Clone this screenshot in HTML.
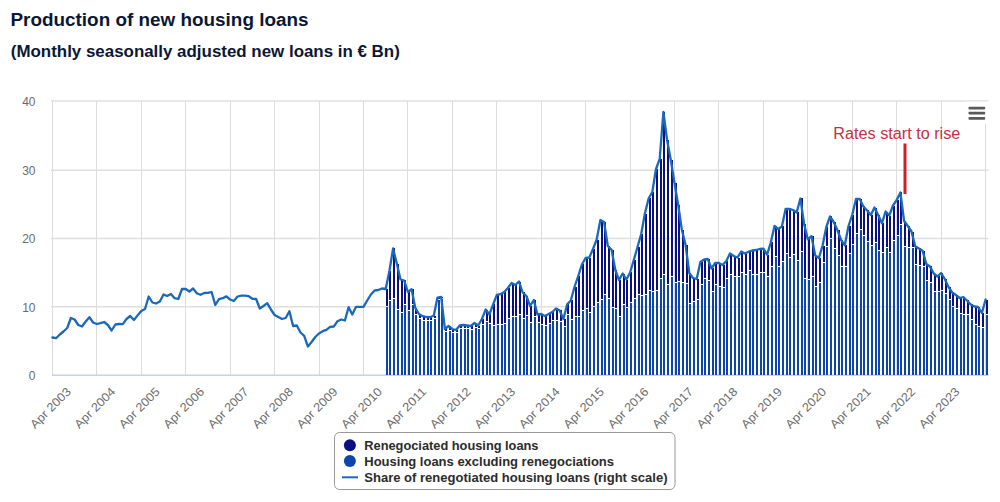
<!DOCTYPE html>
<html><head><meta charset="utf-8"><title>Production of new housing loans</title>
<style>html,body{margin:0;padding:0;background:#fff;}body{width:1000px;height:502px;overflow:hidden;}svg{display:block;}text{font-family:"Liberation Sans",sans-serif;}.t{font-weight:bold;fill:#0b1736;}.ax{font-size:12px;fill:#6b6b6b;}.lg{font-weight:bold;font-size:12px;fill:#2b2b2b;}</style>
</head><body>
<svg width="1000" height="502" viewBox="0 0 1000 502">
<rect width="1000" height="502" fill="#fff"/>
<text class="t" x="10.5" y="26.3" font-size="18" textLength="298" lengthAdjust="spacingAndGlyphs">Production of new housing loans</text>
<text class="t" x="10.8" y="56.7" font-size="16" textLength="389" lengthAdjust="spacingAndGlyphs">(Monthly seasonally adjusted new loans in € Bn)</text>
<g stroke="#dcdcdc" stroke-width="1">
<line x1="52.5" y1="101.0" x2="52.5" y2="375.4"/>
<line x1="96.5" y1="101.0" x2="96.5" y2="375.4"/>
<line x1="141.5" y1="101.0" x2="141.5" y2="375.4"/>
<line x1="185.5" y1="101.0" x2="185.5" y2="375.4"/>
<line x1="230.5" y1="101.0" x2="230.5" y2="375.4"/>
<line x1="274.5" y1="101.0" x2="274.5" y2="375.4"/>
<line x1="319.5" y1="101.0" x2="319.5" y2="375.4"/>
<line x1="363.5" y1="101.0" x2="363.5" y2="375.4"/>
<line x1="407.5" y1="101.0" x2="407.5" y2="375.4"/>
<line x1="452.5" y1="101.0" x2="452.5" y2="375.4"/>
<line x1="496.5" y1="101.0" x2="496.5" y2="375.4"/>
<line x1="541.5" y1="101.0" x2="541.5" y2="375.4"/>
<line x1="585.5" y1="101.0" x2="585.5" y2="375.4"/>
<line x1="630.5" y1="101.0" x2="630.5" y2="375.4"/>
<line x1="674.5" y1="101.0" x2="674.5" y2="375.4"/>
<line x1="718.5" y1="101.0" x2="718.5" y2="375.4"/>
<line x1="763.5" y1="101.0" x2="763.5" y2="375.4"/>
<line x1="807.5" y1="101.0" x2="807.5" y2="375.4"/>
<line x1="852.5" y1="101.0" x2="852.5" y2="375.4"/>
<line x1="896.5" y1="101.0" x2="896.5" y2="375.4"/>
<line x1="941.5" y1="101.0" x2="941.5" y2="375.4"/>
<line x1="985.5" y1="101.0" x2="985.5" y2="375.4"/>
<line x1="51" y1="101.0" x2="988.5" y2="101.0" stroke-width="1.5" stroke="#dfdfdf"/>
<line x1="51" y1="170.2" x2="988.5" y2="170.2" stroke-width="1.5" stroke="#dfdfdf"/>
<line x1="51" y1="238.6" x2="988.5" y2="238.6" stroke-width="1.5" stroke="#dfdfdf"/>
<line x1="51" y1="306.8" x2="988.5" y2="306.8" stroke-width="1.5" stroke="#dfdfdf"/>
</g>
<line x1="52" y1="375.3" x2="988.5" y2="375.3" stroke="#c8d0e4" stroke-width="1.4"/>
<text class="ax" x="35.5" y="380.1" text-anchor="end">0</text>
<text class="ax" x="35.5" y="311.6" text-anchor="end">10</text>
<text class="ax" x="35.5" y="243.4" text-anchor="end">20</text>
<text class="ax" x="35.5" y="175.0" text-anchor="end">30</text>
<text class="ax" x="35.5" y="105.8" text-anchor="end">40</text>
<g>
<g shape-rendering="crispEdges">
<rect x="386" y="289" width="2" height="17" fill="#0a0f82"/>
<rect x="386" y="307" width="2" height="68" fill="#0e45ad"/>
<rect x="389" y="271" width="2" height="29" fill="#0a0f82"/>
<rect x="389" y="301" width="2" height="74" fill="#0e45ad"/>
<rect x="393" y="248" width="2" height="50" fill="#0a0f82"/>
<rect x="393" y="299" width="2" height="76" fill="#0e45ad"/>
<rect x="397" y="264" width="2" height="45" fill="#0a0f82"/>
<rect x="397" y="310" width="2" height="65" fill="#0e45ad"/>
<rect x="401" y="280" width="2" height="32" fill="#0a0f82"/>
<rect x="401" y="313" width="2" height="62" fill="#0e45ad"/>
<rect x="404" y="280" width="2" height="24" fill="#0a0f82"/>
<rect x="404" y="305" width="2" height="70" fill="#0e45ad"/>
<rect x="408" y="292" width="2" height="18" fill="#0a0f82"/>
<rect x="408" y="311" width="2" height="64" fill="#0e45ad"/>
<rect x="412" y="289" width="2" height="15" fill="#0a0f82"/>
<rect x="412" y="305" width="2" height="70" fill="#0e45ad"/>
<rect x="415" y="308" width="2" height="6" fill="#0a0f82"/>
<rect x="415" y="315" width="2" height="60" fill="#0e45ad"/>
<rect x="419" y="314" width="2" height="4" fill="#0a0f82"/>
<rect x="419" y="319" width="2" height="56" fill="#0e45ad"/>
<rect x="423" y="316" width="2" height="4" fill="#0a0f82"/>
<rect x="423" y="321" width="2" height="54" fill="#0e45ad"/>
<rect x="427" y="317" width="2" height="3" fill="#0a0f82"/>
<rect x="427" y="321" width="2" height="54" fill="#0e45ad"/>
<rect x="430" y="317" width="2" height="3" fill="#0a0f82"/>
<rect x="430" y="321" width="2" height="54" fill="#0e45ad"/>
<rect x="434" y="316" width="2" height="2" fill="#0a0f82"/>
<rect x="434" y="319" width="2" height="56" fill="#0e45ad"/>
<rect x="438" y="298" width="2" height="1" fill="#0a0f82"/>
<rect x="438" y="300" width="2" height="75" fill="#0e45ad"/>
<rect x="441" y="297" width="2" height="1" fill="#0a0f82"/>
<rect x="441" y="299" width="2" height="76" fill="#0e45ad"/>
<rect x="445" y="329" width="2" height="2" fill="#0a0f82"/>
<rect x="445" y="332" width="2" height="43" fill="#0e45ad"/>
<rect x="449" y="326" width="2" height="4" fill="#0a0f82"/>
<rect x="449" y="331" width="2" height="44" fill="#0e45ad"/>
<rect x="452" y="329" width="2" height="3" fill="#0a0f82"/>
<rect x="452" y="333" width="2" height="42" fill="#0e45ad"/>
<rect x="456" y="330" width="2" height="2" fill="#0a0f82"/>
<rect x="456" y="333" width="2" height="42" fill="#0e45ad"/>
<rect x="460" y="326" width="2" height="2" fill="#0a0f82"/>
<rect x="460" y="329" width="2" height="46" fill="#0e45ad"/>
<rect x="464" y="325" width="2" height="3" fill="#0a0f82"/>
<rect x="464" y="329" width="2" height="46" fill="#0e45ad"/>
<rect x="467" y="326" width="2" height="2" fill="#0a0f82"/>
<rect x="467" y="329" width="2" height="46" fill="#0e45ad"/>
<rect x="471" y="326" width="2" height="3" fill="#0a0f82"/>
<rect x="471" y="330" width="2" height="45" fill="#0e45ad"/>
<rect x="475" y="323" width="2" height="4" fill="#0a0f82"/>
<rect x="475" y="328" width="2" height="47" fill="#0e45ad"/>
<rect x="478" y="326" width="2" height="2" fill="#0a0f82"/>
<rect x="478" y="329" width="2" height="46" fill="#0e45ad"/>
<rect x="482" y="319" width="2" height="5" fill="#0a0f82"/>
<rect x="482" y="325" width="2" height="50" fill="#0e45ad"/>
<rect x="486" y="310" width="2" height="11" fill="#0a0f82"/>
<rect x="486" y="322" width="2" height="53" fill="#0e45ad"/>
<rect x="489" y="314" width="2" height="9" fill="#0a0f82"/>
<rect x="489" y="324" width="2" height="51" fill="#0e45ad"/>
<rect x="493" y="304" width="2" height="21" fill="#0a0f82"/>
<rect x="493" y="326" width="2" height="49" fill="#0e45ad"/>
<rect x="497" y="295" width="2" height="29" fill="#0a0f82"/>
<rect x="497" y="325" width="2" height="50" fill="#0e45ad"/>
<rect x="501" y="294" width="2" height="30" fill="#0a0f82"/>
<rect x="501" y="325" width="2" height="50" fill="#0e45ad"/>
<rect x="504" y="292" width="2" height="31" fill="#0a0f82"/>
<rect x="504" y="324" width="2" height="51" fill="#0e45ad"/>
<rect x="508" y="288" width="2" height="30" fill="#0a0f82"/>
<rect x="508" y="319" width="2" height="56" fill="#0e45ad"/>
<rect x="512" y="283" width="2" height="33" fill="#0a0f82"/>
<rect x="512" y="317" width="2" height="58" fill="#0e45ad"/>
<rect x="515" y="285" width="2" height="31" fill="#0a0f82"/>
<rect x="515" y="317" width="2" height="58" fill="#0e45ad"/>
<rect x="519" y="282" width="2" height="32" fill="#0a0f82"/>
<rect x="519" y="315" width="2" height="60" fill="#0e45ad"/>
<rect x="523" y="292" width="2" height="26" fill="#0a0f82"/>
<rect x="523" y="319" width="2" height="56" fill="#0e45ad"/>
<rect x="526" y="296" width="2" height="19" fill="#0a0f82"/>
<rect x="526" y="316" width="2" height="59" fill="#0e45ad"/>
<rect x="530" y="306" width="2" height="16" fill="#0a0f82"/>
<rect x="530" y="323" width="2" height="52" fill="#0e45ad"/>
<rect x="534" y="300" width="2" height="16" fill="#0a0f82"/>
<rect x="534" y="317" width="2" height="58" fill="#0e45ad"/>
<rect x="538" y="314" width="2" height="8" fill="#0a0f82"/>
<rect x="538" y="323" width="2" height="52" fill="#0e45ad"/>
<rect x="541" y="314" width="2" height="10" fill="#0a0f82"/>
<rect x="541" y="325" width="2" height="50" fill="#0e45ad"/>
<rect x="545" y="316" width="2" height="9" fill="#0a0f82"/>
<rect x="545" y="326" width="2" height="49" fill="#0e45ad"/>
<rect x="549" y="314" width="2" height="9" fill="#0a0f82"/>
<rect x="549" y="324" width="2" height="51" fill="#0e45ad"/>
<rect x="552" y="312" width="2" height="8" fill="#0a0f82"/>
<rect x="552" y="321" width="2" height="54" fill="#0e45ad"/>
<rect x="556" y="308" width="2" height="12" fill="#0a0f82"/>
<rect x="556" y="321" width="2" height="54" fill="#0e45ad"/>
<rect x="560" y="310" width="2" height="11" fill="#0a0f82"/>
<rect x="560" y="322" width="2" height="53" fill="#0e45ad"/>
<rect x="564" y="319" width="2" height="7" fill="#0a0f82"/>
<rect x="564" y="327" width="2" height="48" fill="#0e45ad"/>
<rect x="567" y="304" width="2" height="10" fill="#0a0f82"/>
<rect x="567" y="315" width="2" height="60" fill="#0e45ad"/>
<rect x="571" y="300" width="2" height="19" fill="#0a0f82"/>
<rect x="571" y="320" width="2" height="55" fill="#0e45ad"/>
<rect x="575" y="287" width="2" height="29" fill="#0a0f82"/>
<rect x="575" y="317" width="2" height="58" fill="#0e45ad"/>
<rect x="578" y="276" width="2" height="40" fill="#0a0f82"/>
<rect x="578" y="317" width="2" height="58" fill="#0e45ad"/>
<rect x="582" y="264" width="2" height="46" fill="#0a0f82"/>
<rect x="582" y="311" width="2" height="64" fill="#0e45ad"/>
<rect x="586" y="258" width="2" height="50" fill="#0a0f82"/>
<rect x="586" y="309" width="2" height="66" fill="#0e45ad"/>
<rect x="589" y="258" width="2" height="54" fill="#0a0f82"/>
<rect x="589" y="313" width="2" height="62" fill="#0e45ad"/>
<rect x="593" y="249" width="2" height="57" fill="#0a0f82"/>
<rect x="593" y="307" width="2" height="68" fill="#0e45ad"/>
<rect x="597" y="240" width="2" height="62" fill="#0a0f82"/>
<rect x="597" y="303" width="2" height="72" fill="#0e45ad"/>
<rect x="601" y="220" width="2" height="79" fill="#0a0f82"/>
<rect x="601" y="300" width="2" height="75" fill="#0e45ad"/>
<rect x="604" y="222" width="2" height="72" fill="#0a0f82"/>
<rect x="604" y="295" width="2" height="80" fill="#0e45ad"/>
<rect x="608" y="246" width="2" height="52" fill="#0a0f82"/>
<rect x="608" y="299" width="2" height="76" fill="#0e45ad"/>
<rect x="612" y="250" width="2" height="57" fill="#0a0f82"/>
<rect x="612" y="308" width="2" height="67" fill="#0e45ad"/>
<rect x="615" y="270" width="2" height="38" fill="#0a0f82"/>
<rect x="615" y="309" width="2" height="66" fill="#0e45ad"/>
<rect x="619" y="280" width="2" height="36" fill="#0a0f82"/>
<rect x="619" y="317" width="2" height="58" fill="#0e45ad"/>
<rect x="623" y="274" width="2" height="30" fill="#0a0f82"/>
<rect x="623" y="305" width="2" height="70" fill="#0e45ad"/>
<rect x="626" y="280" width="2" height="27" fill="#0a0f82"/>
<rect x="626" y="308" width="2" height="67" fill="#0e45ad"/>
<rect x="630" y="272" width="2" height="30" fill="#0a0f82"/>
<rect x="630" y="303" width="2" height="72" fill="#0e45ad"/>
<rect x="634" y="260" width="2" height="38" fill="#0a0f82"/>
<rect x="634" y="299" width="2" height="76" fill="#0e45ad"/>
<rect x="638" y="247" width="2" height="47" fill="#0a0f82"/>
<rect x="638" y="295" width="2" height="80" fill="#0e45ad"/>
<rect x="641" y="234" width="2" height="61" fill="#0a0f82"/>
<rect x="641" y="296" width="2" height="79" fill="#0e45ad"/>
<rect x="645" y="214" width="2" height="80" fill="#0a0f82"/>
<rect x="645" y="295" width="2" height="80" fill="#0e45ad"/>
<rect x="649" y="198" width="2" height="92" fill="#0a0f82"/>
<rect x="649" y="291" width="2" height="84" fill="#0e45ad"/>
<rect x="652" y="192" width="2" height="99" fill="#0a0f82"/>
<rect x="652" y="292" width="2" height="83" fill="#0e45ad"/>
<rect x="656" y="169" width="2" height="121" fill="#0a0f82"/>
<rect x="656" y="291" width="2" height="84" fill="#0e45ad"/>
<rect x="660" y="159" width="2" height="119" fill="#0a0f82"/>
<rect x="660" y="279" width="2" height="96" fill="#0e45ad"/>
<rect x="663" y="112" width="2" height="162" fill="#0a0f82"/>
<rect x="663" y="275" width="2" height="100" fill="#0e45ad"/>
<rect x="667" y="140" width="2" height="144" fill="#0a0f82"/>
<rect x="667" y="285" width="2" height="90" fill="#0e45ad"/>
<rect x="671" y="160" width="2" height="116" fill="#0a0f82"/>
<rect x="671" y="277" width="2" height="98" fill="#0e45ad"/>
<rect x="675" y="183" width="2" height="99" fill="#0a0f82"/>
<rect x="675" y="283" width="2" height="92" fill="#0e45ad"/>
<rect x="678" y="205" width="2" height="76" fill="#0a0f82"/>
<rect x="678" y="282" width="2" height="93" fill="#0e45ad"/>
<rect x="682" y="230" width="2" height="52" fill="#0a0f82"/>
<rect x="682" y="283" width="2" height="92" fill="#0e45ad"/>
<rect x="686" y="245" width="2" height="38" fill="#0a0f82"/>
<rect x="686" y="284" width="2" height="91" fill="#0e45ad"/>
<rect x="689" y="273" width="2" height="30" fill="#0a0f82"/>
<rect x="689" y="304" width="2" height="71" fill="#0e45ad"/>
<rect x="693" y="278" width="2" height="23" fill="#0a0f82"/>
<rect x="693" y="302" width="2" height="73" fill="#0e45ad"/>
<rect x="697" y="279" width="2" height="20" fill="#0a0f82"/>
<rect x="697" y="300" width="2" height="75" fill="#0e45ad"/>
<rect x="701" y="262" width="2" height="22" fill="#0a0f82"/>
<rect x="701" y="285" width="2" height="90" fill="#0e45ad"/>
<rect x="704" y="260" width="2" height="18" fill="#0a0f82"/>
<rect x="704" y="279" width="2" height="96" fill="#0e45ad"/>
<rect x="708" y="259" width="2" height="21" fill="#0a0f82"/>
<rect x="708" y="281" width="2" height="94" fill="#0e45ad"/>
<rect x="712" y="268" width="2" height="23" fill="#0a0f82"/>
<rect x="712" y="292" width="2" height="83" fill="#0e45ad"/>
<rect x="715" y="263" width="2" height="21" fill="#0a0f82"/>
<rect x="715" y="285" width="2" height="90" fill="#0e45ad"/>
<rect x="719" y="263" width="2" height="23" fill="#0a0f82"/>
<rect x="719" y="287" width="2" height="88" fill="#0e45ad"/>
<rect x="723" y="265" width="2" height="22" fill="#0a0f82"/>
<rect x="723" y="288" width="2" height="87" fill="#0e45ad"/>
<rect x="726" y="261" width="2" height="17" fill="#0a0f82"/>
<rect x="726" y="279" width="2" height="96" fill="#0e45ad"/>
<rect x="730" y="254" width="2" height="20" fill="#0a0f82"/>
<rect x="730" y="275" width="2" height="100" fill="#0e45ad"/>
<rect x="734" y="256" width="2" height="20" fill="#0a0f82"/>
<rect x="734" y="277" width="2" height="98" fill="#0e45ad"/>
<rect x="738" y="258" width="2" height="18" fill="#0a0f82"/>
<rect x="738" y="277" width="2" height="98" fill="#0e45ad"/>
<rect x="741" y="252" width="2" height="20" fill="#0a0f82"/>
<rect x="741" y="273" width="2" height="102" fill="#0e45ad"/>
<rect x="745" y="254" width="2" height="20" fill="#0a0f82"/>
<rect x="745" y="275" width="2" height="100" fill="#0e45ad"/>
<rect x="749" y="252" width="2" height="18" fill="#0a0f82"/>
<rect x="749" y="271" width="2" height="104" fill="#0e45ad"/>
<rect x="752" y="250" width="2" height="24" fill="#0a0f82"/>
<rect x="752" y="275" width="2" height="100" fill="#0e45ad"/>
<rect x="756" y="250" width="2" height="24" fill="#0a0f82"/>
<rect x="756" y="275" width="2" height="100" fill="#0e45ad"/>
<rect x="760" y="249" width="2" height="23" fill="#0a0f82"/>
<rect x="760" y="273" width="2" height="102" fill="#0e45ad"/>
<rect x="763" y="249" width="2" height="23" fill="#0a0f82"/>
<rect x="763" y="273" width="2" height="102" fill="#0e45ad"/>
<rect x="767" y="255" width="2" height="21" fill="#0a0f82"/>
<rect x="767" y="277" width="2" height="98" fill="#0e45ad"/>
<rect x="771" y="242" width="2" height="24" fill="#0a0f82"/>
<rect x="771" y="267" width="2" height="108" fill="#0e45ad"/>
<rect x="775" y="226" width="2" height="30" fill="#0a0f82"/>
<rect x="775" y="257" width="2" height="118" fill="#0e45ad"/>
<rect x="778" y="229" width="2" height="37" fill="#0a0f82"/>
<rect x="778" y="267" width="2" height="108" fill="#0e45ad"/>
<rect x="782" y="226" width="2" height="35" fill="#0a0f82"/>
<rect x="782" y="262" width="2" height="113" fill="#0e45ad"/>
<rect x="786" y="209" width="2" height="44" fill="#0a0f82"/>
<rect x="786" y="254" width="2" height="121" fill="#0e45ad"/>
<rect x="789" y="209" width="2" height="48" fill="#0a0f82"/>
<rect x="789" y="258" width="2" height="117" fill="#0e45ad"/>
<rect x="793" y="210" width="2" height="44" fill="#0a0f82"/>
<rect x="793" y="255" width="2" height="120" fill="#0e45ad"/>
<rect x="797" y="212" width="2" height="48" fill="#0a0f82"/>
<rect x="797" y="261" width="2" height="114" fill="#0e45ad"/>
<rect x="801" y="198" width="2" height="53" fill="#0a0f82"/>
<rect x="801" y="252" width="2" height="123" fill="#0e45ad"/>
<rect x="804" y="224" width="2" height="54" fill="#0a0f82"/>
<rect x="804" y="279" width="2" height="96" fill="#0e45ad"/>
<rect x="808" y="239" width="2" height="40" fill="#0a0f82"/>
<rect x="808" y="280" width="2" height="95" fill="#0e45ad"/>
<rect x="812" y="236" width="2" height="40" fill="#0a0f82"/>
<rect x="812" y="277" width="2" height="98" fill="#0e45ad"/>
<rect x="815" y="256" width="2" height="30" fill="#0a0f82"/>
<rect x="815" y="287" width="2" height="88" fill="#0e45ad"/>
<rect x="819" y="258" width="2" height="24" fill="#0a0f82"/>
<rect x="819" y="283" width="2" height="92" fill="#0e45ad"/>
<rect x="823" y="246" width="2" height="16" fill="#0a0f82"/>
<rect x="823" y="263" width="2" height="112" fill="#0e45ad"/>
<rect x="826" y="227" width="2" height="19" fill="#0a0f82"/>
<rect x="826" y="247" width="2" height="128" fill="#0e45ad"/>
<rect x="830" y="216" width="2" height="22" fill="#0a0f82"/>
<rect x="830" y="239" width="2" height="136" fill="#0e45ad"/>
<rect x="834" y="222" width="2" height="26" fill="#0a0f82"/>
<rect x="834" y="249" width="2" height="126" fill="#0e45ad"/>
<rect x="838" y="230" width="2" height="25" fill="#0a0f82"/>
<rect x="838" y="256" width="2" height="119" fill="#0e45ad"/>
<rect x="841" y="240" width="2" height="26" fill="#0a0f82"/>
<rect x="841" y="267" width="2" height="108" fill="#0e45ad"/>
<rect x="845" y="245" width="2" height="21" fill="#0a0f82"/>
<rect x="845" y="267" width="2" height="108" fill="#0e45ad"/>
<rect x="849" y="226" width="2" height="27" fill="#0a0f82"/>
<rect x="849" y="254" width="2" height="121" fill="#0e45ad"/>
<rect x="852" y="215" width="2" height="29" fill="#0a0f82"/>
<rect x="852" y="245" width="2" height="130" fill="#0e45ad"/>
<rect x="856" y="199" width="2" height="34" fill="#0a0f82"/>
<rect x="856" y="234" width="2" height="141" fill="#0e45ad"/>
<rect x="860" y="199" width="2" height="30" fill="#0a0f82"/>
<rect x="860" y="230" width="2" height="145" fill="#0e45ad"/>
<rect x="863" y="206" width="2" height="29" fill="#0a0f82"/>
<rect x="863" y="236" width="2" height="139" fill="#0e45ad"/>
<rect x="867" y="210" width="2" height="31" fill="#0a0f82"/>
<rect x="867" y="242" width="2" height="133" fill="#0e45ad"/>
<rect x="871" y="215" width="2" height="30" fill="#0a0f82"/>
<rect x="871" y="246" width="2" height="129" fill="#0e45ad"/>
<rect x="875" y="208" width="2" height="34" fill="#0a0f82"/>
<rect x="875" y="243" width="2" height="132" fill="#0e45ad"/>
<rect x="878" y="215" width="2" height="35" fill="#0a0f82"/>
<rect x="878" y="251" width="2" height="124" fill="#0e45ad"/>
<rect x="882" y="223" width="2" height="29" fill="#0a0f82"/>
<rect x="882" y="253" width="2" height="122" fill="#0e45ad"/>
<rect x="886" y="212" width="2" height="35" fill="#0a0f82"/>
<rect x="886" y="248" width="2" height="127" fill="#0e45ad"/>
<rect x="889" y="216" width="2" height="36" fill="#0a0f82"/>
<rect x="889" y="253" width="2" height="122" fill="#0e45ad"/>
<rect x="893" y="206" width="2" height="34" fill="#0a0f82"/>
<rect x="893" y="241" width="2" height="134" fill="#0e45ad"/>
<rect x="897" y="200" width="2" height="35" fill="#0a0f82"/>
<rect x="897" y="236" width="2" height="139" fill="#0e45ad"/>
<rect x="900" y="192" width="2" height="32" fill="#0a0f82"/>
<rect x="900" y="225" width="2" height="150" fill="#0e45ad"/>
<rect x="904" y="221" width="2" height="25" fill="#0a0f82"/>
<rect x="904" y="247" width="2" height="128" fill="#0e45ad"/>
<rect x="908" y="226" width="2" height="21" fill="#0a0f82"/>
<rect x="908" y="248" width="2" height="127" fill="#0e45ad"/>
<rect x="912" y="232" width="2" height="15" fill="#0a0f82"/>
<rect x="912" y="248" width="2" height="127" fill="#0e45ad"/>
<rect x="915" y="246" width="2" height="18" fill="#0a0f82"/>
<rect x="915" y="265" width="2" height="110" fill="#0e45ad"/>
<rect x="919" y="248" width="2" height="17" fill="#0a0f82"/>
<rect x="919" y="266" width="2" height="109" fill="#0e45ad"/>
<rect x="923" y="251" width="2" height="15" fill="#0a0f82"/>
<rect x="923" y="267" width="2" height="108" fill="#0e45ad"/>
<rect x="926" y="264" width="2" height="16" fill="#0a0f82"/>
<rect x="926" y="281" width="2" height="94" fill="#0e45ad"/>
<rect x="930" y="266" width="2" height="16" fill="#0a0f82"/>
<rect x="930" y="283" width="2" height="92" fill="#0e45ad"/>
<rect x="934" y="274" width="2" height="17" fill="#0a0f82"/>
<rect x="934" y="292" width="2" height="83" fill="#0e45ad"/>
<rect x="938" y="276" width="2" height="15" fill="#0a0f82"/>
<rect x="938" y="292" width="2" height="83" fill="#0e45ad"/>
<rect x="941" y="273" width="2" height="17" fill="#0a0f82"/>
<rect x="941" y="291" width="2" height="84" fill="#0e45ad"/>
<rect x="945" y="279" width="2" height="14" fill="#0a0f82"/>
<rect x="945" y="294" width="2" height="81" fill="#0e45ad"/>
<rect x="949" y="287" width="2" height="12" fill="#0a0f82"/>
<rect x="949" y="300" width="2" height="75" fill="#0e45ad"/>
<rect x="952" y="292" width="2" height="14" fill="#0a0f82"/>
<rect x="952" y="307" width="2" height="68" fill="#0e45ad"/>
<rect x="956" y="295" width="2" height="13" fill="#0a0f82"/>
<rect x="956" y="309" width="2" height="66" fill="#0e45ad"/>
<rect x="960" y="298" width="2" height="15" fill="#0a0f82"/>
<rect x="960" y="314" width="2" height="61" fill="#0e45ad"/>
<rect x="963" y="297" width="2" height="17" fill="#0a0f82"/>
<rect x="963" y="315" width="2" height="60" fill="#0e45ad"/>
<rect x="967" y="300" width="2" height="14" fill="#0a0f82"/>
<rect x="967" y="315" width="2" height="60" fill="#0e45ad"/>
<rect x="971" y="304" width="2" height="15" fill="#0a0f82"/>
<rect x="971" y="320" width="2" height="55" fill="#0e45ad"/>
<rect x="975" y="306" width="2" height="18" fill="#0a0f82"/>
<rect x="975" y="325" width="2" height="50" fill="#0e45ad"/>
<rect x="978" y="307" width="2" height="19" fill="#0a0f82"/>
<rect x="978" y="327" width="2" height="48" fill="#0e45ad"/>
<rect x="982" y="313" width="2" height="14" fill="#0a0f82"/>
<rect x="982" y="328" width="2" height="47" fill="#0e45ad"/>
<rect x="986" y="300" width="2" height="14" fill="#0a0f82"/>
<rect x="986" y="315" width="2" height="60" fill="#0e45ad"/>
</g>
<polyline points="52.4,337.5 56.1,338.2 59.8,334.5 63.5,331.5 67.2,328.0 70.9,318.0 74.6,319.5 78.3,325.0 82.0,326.5 85.7,321.5 89.4,317.2 93.1,322.5 96.8,324.0 100.5,323.2 104.2,322.0 107.9,325.0 111.6,330.5 115.4,324.5 119.1,324.0 122.8,324.2 126.5,319.0 130.2,316.0 133.9,320.0 137.6,315.4 141.3,311.0 145.0,309.0 148.7,296.5 152.4,302.5 156.1,303.5 159.8,301.5 163.5,294.5 167.2,296.0 170.9,294.0 174.6,298.2 178.3,299.0 182.0,289.0 185.7,289.0 189.4,291.5 193.1,288.5 196.8,293.2 200.5,294.8 204.2,293.0 207.9,292.8 211.6,292.0 215.3,305.0 219.0,299.2 222.7,298.2 226.4,296.4 230.1,299.5 233.8,301.0 237.6,296.5 241.3,295.7 245.0,295.7 248.7,296.2 252.4,298.8 256.1,299.0 259.8,308.5 263.5,306.0 267.2,303.2 270.9,309.5 274.6,315.0 278.3,317.0 282.0,319.0 285.7,318.0 289.4,311.2 293.1,326.0 296.8,325.5 300.5,332.5 304.2,335.8 307.9,346.5 311.6,342.0 315.3,337.0 319.0,333.5 322.7,331.2 326.4,329.8 330.1,326.8 333.8,326.5 337.5,321.2 341.2,319.5 344.9,320.5 348.6,307.2 352.3,314.5 356.0,306.8 359.7,306.8 363.5,306.8 367.2,300.5 370.9,294.5 374.6,290.5 378.3,290.0 382.0,288.5 385.7,289.0 389.4,271.0 393.1,248.5 396.8,263.5 400.5,279.5 404.2,280.5 407.9,292.0 411.6,289.3 415.3,308.0 419.0,314.0 422.7,316.2 426.4,317.0 430.1,317.2 433.8,315.5 437.5,297.6 441.2,297.0 444.9,329.0 448.6,326.0 452.3,329.0 456.0,330.0 459.7,325.5 463.4,325.0 467.1,325.5 470.8,326.0 474.5,323.0 478.2,325.5 481.9,319.0 485.7,309.5 489.4,314.5 493.1,304.5 496.8,294.8 500.5,294.2 504.2,292.0 507.9,288.0 511.6,283.0 515.3,285.0 519.0,281.5 522.7,292.5 526.4,296.0 530.1,306.0 533.8,300.0 537.5,314.5 541.2,314.0 544.9,316.0 548.6,314.0 552.3,312.0 556.0,308.5 559.7,310.5 563.4,319.0 567.1,304.5 570.8,300.5 574.5,287.0 578.2,276.0 581.9,264.5 585.6,258.0 589.3,257.5 593.0,249.0 596.7,239.5 600.4,220.0 604.1,222.0 607.8,246.0 611.6,249.8 615.3,270.0 619.0,280.0 622.7,273.5 626.4,279.5 630.1,272.5 633.8,260.0 637.5,247.0 641.2,234.0 644.9,213.5 648.6,198.5 652.3,192.0 656.0,169.0 659.7,159.0 663.4,112.0 667.1,140.0 670.8,160.0 674.5,183.0 678.2,205.0 681.9,230.0 685.6,245.0 689.3,273.0 693.0,278.0 696.7,279.0 700.4,262.0 704.1,259.5 707.8,259.0 711.5,268.5 715.2,263.0 718.9,263.0 722.6,265.0 726.3,261.0 730.0,253.5 733.8,256.0 737.5,257.5 741.2,251.5 744.9,253.5 748.6,251.7 752.3,250.5 756.0,250.0 759.7,249.0 763.4,248.7 767.1,254.7 770.8,242.5 774.5,226.0 778.2,229.0 781.9,226.5 785.6,209.0 789.3,208.8 793.0,210.0 796.7,212.5 800.4,198.5 804.1,224.0 807.8,239.3 811.5,236.2 815.2,255.5 818.9,258.0 822.6,245.5 826.3,227.0 830.0,216.5 833.7,222.0 837.4,230.0 841.1,240.0 844.8,245.3 848.5,226.0 852.2,215.0 856.0,199.0 859.7,199.0 863.4,206.5 867.1,210.5 870.8,215.0 874.5,207.5 878.2,215.0 881.9,223.3 885.6,211.5 889.3,215.5 893.0,205.5 896.7,200.0 900.4,192.5 904.1,221.0 907.8,226.0 911.5,231.5 915.2,246.3 918.9,248.5 922.6,250.7 926.3,264.0 930.0,266.5 933.7,273.5 937.4,276.5 941.1,273.0 944.8,279.0 948.5,287.0 952.2,292.5 955.9,295.0 959.6,298.0 963.3,297.0 967.0,300.5 970.7,304.5 974.4,306.5 978.1,307.0 981.9,313.0 985.6,299.5" fill="none" stroke="#1c68b8" stroke-width="2.3" stroke-linejoin="round" stroke-linecap="round"/>
</g>
<text class="ax" transform="translate(71.7,392.4) rotate(-45)" x="-52" textLength="52" lengthAdjust="spacingAndGlyphs">Apr 2003</text>
<text class="ax" transform="translate(116.1,392.4) rotate(-45)" x="-52" textLength="52" lengthAdjust="spacingAndGlyphs">Apr 2004</text>
<text class="ax" transform="translate(160.6,392.4) rotate(-45)" x="-52" textLength="52" lengthAdjust="spacingAndGlyphs">Apr 2005</text>
<text class="ax" transform="translate(205.0,392.4) rotate(-45)" x="-52" textLength="52" lengthAdjust="spacingAndGlyphs">Apr 2006</text>
<text class="ax" transform="translate(249.4,392.4) rotate(-45)" x="-52" textLength="52" lengthAdjust="spacingAndGlyphs">Apr 2007</text>
<text class="ax" transform="translate(293.9,392.4) rotate(-45)" x="-52" textLength="52" lengthAdjust="spacingAndGlyphs">Apr 2008</text>
<text class="ax" transform="translate(338.3,392.4) rotate(-45)" x="-52" textLength="52" lengthAdjust="spacingAndGlyphs">Apr 2009</text>
<text class="ax" transform="translate(382.8,392.4) rotate(-45)" x="-52" textLength="52" lengthAdjust="spacingAndGlyphs">Apr 2010</text>
<text class="ax" transform="translate(427.2,392.4) rotate(-45)" x="-52" textLength="52" lengthAdjust="spacingAndGlyphs">Apr 2011</text>
<text class="ax" transform="translate(471.6,392.4) rotate(-45)" x="-52" textLength="52" lengthAdjust="spacingAndGlyphs">Apr 2012</text>
<text class="ax" transform="translate(516.1,392.4) rotate(-45)" x="-52" textLength="52" lengthAdjust="spacingAndGlyphs">Apr 2013</text>
<text class="ax" transform="translate(560.5,392.4) rotate(-45)" x="-52" textLength="52" lengthAdjust="spacingAndGlyphs">Apr 2014</text>
<text class="ax" transform="translate(604.9,392.4) rotate(-45)" x="-52" textLength="52" lengthAdjust="spacingAndGlyphs">Apr 2015</text>
<text class="ax" transform="translate(649.4,392.4) rotate(-45)" x="-52" textLength="52" lengthAdjust="spacingAndGlyphs">Apr 2016</text>
<text class="ax" transform="translate(693.8,392.4) rotate(-45)" x="-52" textLength="52" lengthAdjust="spacingAndGlyphs">Apr 2017</text>
<text class="ax" transform="translate(738.2,392.4) rotate(-45)" x="-52" textLength="52" lengthAdjust="spacingAndGlyphs">Apr 2018</text>
<text class="ax" transform="translate(782.7,392.4) rotate(-45)" x="-52" textLength="52" lengthAdjust="spacingAndGlyphs">Apr 2019</text>
<text class="ax" transform="translate(827.1,392.4) rotate(-45)" x="-52" textLength="52" lengthAdjust="spacingAndGlyphs">Apr 2020</text>
<text class="ax" transform="translate(871.5,392.4) rotate(-45)" x="-52" textLength="52" lengthAdjust="spacingAndGlyphs">Apr 2021</text>
<text class="ax" transform="translate(916.0,392.4) rotate(-45)" x="-52" textLength="52" lengthAdjust="spacingAndGlyphs">Apr 2022</text>
<text class="ax" transform="translate(960.4,392.4) rotate(-45)" x="-52" textLength="52" lengthAdjust="spacingAndGlyphs">Apr 2023</text>
<text x="833.3" y="138.5" font-size="16" fill="#c5303f" textLength="127" lengthAdjust="spacingAndGlyphs">Rates start to rise</text>
<rect x="903.5" y="143.5" width="3" height="50.5" fill="#c8202f"/>
<rect x="965" y="101.6" width="24" height="22.4" fill="#fff"/>
<rect x="968.5" y="106.7" width="16.7" height="2.7" rx="0.8" fill="#5a5a5a"/>
<rect x="968.5" y="111.7" width="16.7" height="2.7" rx="0.8" fill="#5a5a5a"/>
<rect x="968.5" y="117.0" width="16.7" height="2.7" rx="0.8" fill="#5a5a5a"/>
<rect x="334.5" y="432.5" width="340.5" height="57" rx="5" fill="#fff" stroke="#999" stroke-width="1"/>
<circle cx="349.9" cy="445.2" r="6" fill="#0a0f82"/>
<circle cx="349.9" cy="460.9" r="6" fill="#0e45ad"/>
<line x1="342" y1="477.3" x2="358" y2="477.3" stroke="#1c68b8" stroke-width="2"/>
<text class="lg" x="364.3" y="450.2" textLength="174.2" lengthAdjust="spacingAndGlyphs">Renegociated housing loans</text>
<text class="lg" x="364.3" y="465.7" textLength="249.7" lengthAdjust="spacingAndGlyphs">Housing loans excluding renegociations</text>
<text class="lg" x="364.3" y="481.7" textLength="303.2" lengthAdjust="spacingAndGlyphs">Share of renegotiated housing loans (right scale)</text>
</svg></body></html>
